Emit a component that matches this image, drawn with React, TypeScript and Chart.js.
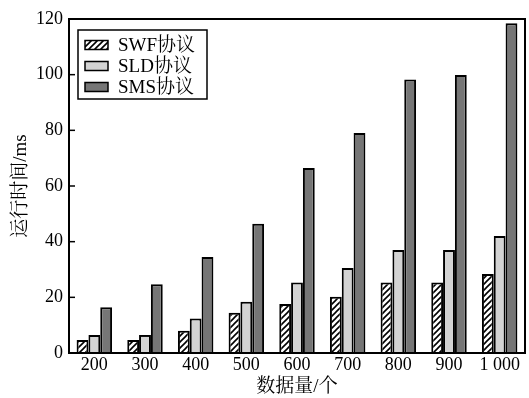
import React, { useEffect, useRef } from "react";
import { Chart, registerables } from "chart.js";

Chart.register(...registerables);

const categories = ["200", "300", "400", "500", "600", "700", "800", "900", "1 000"];
const swfValues = [4.7, 4.7, 8, 14.5, 17.6, 20.2, 25.3, 25.3, 28.4];
const sldValues = [6.5, 6.5, 12.4, 18.4, 25.3, 30.5, 37, 37, 42];
const smsValues = [16.4, 24.7, 34.5, 46.4, 66.5, 79, 98.3, 99.9, 118.5];
const seriesNames = ["SWF协议", "SLD协议", "SMS协议"];
const yTicks = [0, 20, 40, 60, 80, 100, 120];

const FONT = "'Liberation Serif', 'Noto Serif CJK SC', 'Noto Sans CJK SC', serif";

function makeHatch(): CanvasPattern | string {
  const c = document.createElement("canvas");
  const s = 6;
  c.width = s;
  c.height = s;
  const ctx = c.getContext("2d");
  if (!ctx) return "#fff";
  ctx.fillStyle = "#ffffff";
  ctx.fillRect(0, 0, s, s);
  ctx.strokeStyle = "#000";
  ctx.lineWidth = 1.6;
  ctx.beginPath();
  ctx.moveTo(-1, s + 1);
  ctx.lineTo(s + 1, -1);
  ctx.moveTo(-1, 1);
  ctx.lineTo(1, -1);
  ctx.moveTo(s - 1, s + 1);
  ctx.lineTo(s + 1, s - 1);
  ctx.stroke();
  return ctx.createPattern(c, "repeat") || "#fff";
}

const framePlugin = {
  id: "frameAndLegend",
  afterDatasetsDraw(chart: any) {
    const { ctx, chartArea } = chart;
    const yScale = chart.scales.y;
    ctx.save();
    // frame
    ctx.strokeStyle = "#000";
    ctx.lineWidth = 2;
    ctx.strokeRect(chartArea.left, chartArea.top, chartArea.right - chartArea.left, chartArea.bottom - chartArea.top);
    // inward ticks
    ctx.lineWidth = 1.5;
    yTicks.forEach((v) => {
      const y = yScale.getPixelForValue(v);
      ctx.beginPath();
      ctx.moveTo(chartArea.left, y);
      ctx.lineTo(chartArea.left + 6, y);
      ctx.stroke();
    });
    // legend
    const bx = chartArea.left + 9;
    const by = chartArea.top + 11;
    const bw = 129;
    const bh = 69;
    ctx.fillStyle = "#fff";
    ctx.fillRect(bx, by, bw, bh);
    ctx.lineWidth = 1.5;
    ctx.strokeStyle = "#000";
    ctx.strokeRect(bx, by, bw, bh);
    chart.data.datasets.forEach((ds: any, i: number) => {
      const cy = by + 15 + i * 21;
      ctx.fillStyle = ds.backgroundColor;
      ctx.fillRect(bx + 7, cy - 4.5, 23, 9);
      ctx.lineWidth = 1.5;
      ctx.strokeStyle = "#000";
      ctx.strokeRect(bx + 7, cy - 4.5, 23, 9);
      ctx.fillStyle = "#000";
      ctx.font = `19px ${FONT}`;
      ctx.textBaseline = "middle";
      ctx.textAlign = "left";
      ctx.fillText(ds.label, bx + 40, cy + 1);
    });
    ctx.restore();
  },
};

export default function App() {
  const ref = useRef<HTMLCanvasElement | null>(null);
  useEffect(() => {
    document.body.style.margin = "0";
    if (!ref.current) return;
    const hatch = makeHatch();
    const chart = new Chart(ref.current, {
      type: "bar",
      data: {
        labels: categories,
        datasets: [
          { label: seriesNames[0], data: swfValues, backgroundColor: hatch as any, borderColor: "#000", borderWidth: 2 },
          { label: seriesNames[1], data: sldValues, backgroundColor: "#d3d3d3", borderColor: "#000", borderWidth: 2 },
          { label: seriesNames[2], data: smsValues, backgroundColor: "#767676", borderColor: "#000", borderWidth: 2 },
        ],
      },
      options: {
        responsive: false,
        animation: false,
        devicePixelRatio: 1,
        layout: { padding: { left: 0, right: 4, top: 19, bottom: 0 } },
        datasets: { bar: { categoryPercentage: 0.7, barPercentage: 1.0 } },
        plugins: {
          legend: { display: false },
          tooltip: { enabled: false },
        },
        scales: {
          x: {
            grid: { display: false, drawTicks: false },
            border: { display: true, color: "#000", width: 2 },
            ticks: { color: "#000", font: { family: FONT, size: 18 }, padding: 1, maxRotation: 0, autoSkip: false },
            title: { display: true, text: "数据量/个", color: "#000", font: { family: FONT, size: 19 }, padding: { top: 0, bottom: 0 } },
            afterFit: (s: any) => { s.height = 45; },
          },
          y: {
            min: 0,
            max: 120,
            grid: { display: false, drawTicks: false },
            border: { display: true, color: "#000", width: 2 },
            ticks: { stepSize: 20, color: "#000", font: { family: FONT, size: 18 }, padding: 6 },
            title: { display: true, text: "运行时间/ms", color: "#000", font: { family: FONT, size: 19 }, padding: { top: 10, bottom: 0 } },
            afterFit: (s: any) => { s.width = 69; },
          },
        },
      },
      plugins: [framePlugin],
    });
    return () => chart.destroy();
  }, []);
  return <canvas ref={ref} width={529} height={398} style={{ display: "block" }} />;
}
